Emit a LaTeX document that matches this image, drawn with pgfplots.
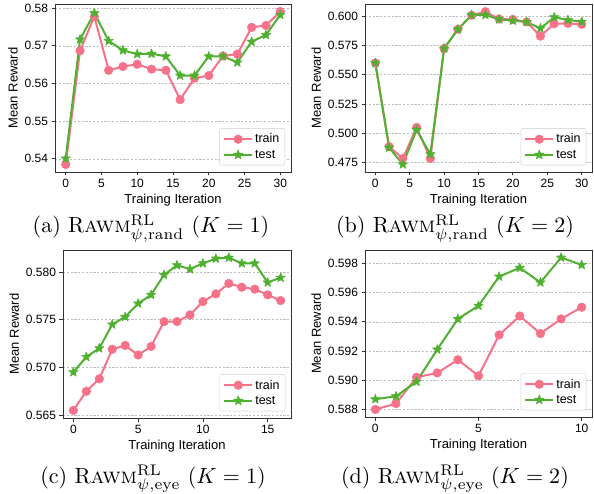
\documentclass[border=0pt]{standalone}
\usepackage{fontspec}
\usepackage{pgfplots}
\pgfplotsset{compat=1.18}
\newfontfamily\arial{Liberation Sans}
\definecolor{trainpink}{HTML}{F77189}
\definecolor{testgreen}{HTML}{50B131}

% filled five-pointed star, like matplotlib's '*'
\pgfdeclareplotmark{fstar}{%
  \pgfpathmoveto{\pgfpointpolar{90}{\pgfplotmarksize}}%
  \pgfpathlineto{\pgfpointpolar{126}{0.42\pgfplotmarksize}}%
  \pgfpathlineto{\pgfpointpolar{162}{\pgfplotmarksize}}%
  \pgfpathlineto{\pgfpointpolar{198}{0.42\pgfplotmarksize}}%
  \pgfpathlineto{\pgfpointpolar{234}{\pgfplotmarksize}}%
  \pgfpathlineto{\pgfpointpolar{270}{0.42\pgfplotmarksize}}%
  \pgfpathlineto{\pgfpointpolar{306}{\pgfplotmarksize}}%
  \pgfpathlineto{\pgfpointpolar{342}{0.42\pgfplotmarksize}}%
  \pgfpathlineto{\pgfpointpolar{18}{\pgfplotmarksize}}%
  \pgfpathlineto{\pgfpointpolar{54}{0.42\pgfplotmarksize}}%
  \pgfpathclose
  \pgfusepathqfillstroke
}

\pgfplotsset{
  rlpanel/.style={
    scale only axis,
    axis line style={black!80, line width=0.8pt},
    tick align=outside,
    tick pos=left,
    major tick length=3.5pt,
    every tick/.style={black!80, line width=0.8pt},
    ymajorgrids,
    grid style={dash pattern=on 2.2pt off 1.6pt, black!25, line width=0.6pt},
    xlabel={Training Iteration},
    ylabel={Mean Reward},
    label style={font=\arial\fontsize{13}{15}\selectfont},
    tick label style={font=\arial\fontsize{12}{14}\selectfont},
    /pgf/number format/assume math mode=true,
    scaled y ticks=false,
    yticklabel style={/pgf/number format/fixed, /pgf/number format/fixed zerofill, /pgf/number format/precision=3},
    legend style={at={(0.975,0.04)}, anchor=south east, draw=black!20, rounded corners=2pt,
      font=\arial\fontsize{12.5}{15}\selectfont, cells={anchor=west}, inner sep=3.5pt, row sep=1.5pt},
    legend image code/.code={\draw[mark repeat=2, mark phase=2] plot coordinates {(0pt,0pt) (14pt,0pt) (28pt,0pt)};},
  },
  train/.style={trainpink, line width=2pt, line join=round, mark=*, mark size=4.3pt, mark options={line width=0.5pt}},
  test/.style={testgreen, line width=2pt, line join=round, mark=fstar, mark size=5pt, mark options={line width=0.5pt}},
}

\begin{document}
\begin{tikzpicture}
  % (a)
  \begin{axis}[rlpanel, at={(55pt,321pt)}, anchor=south west, width=236pt, height=168pt,
    xmin=-1.5, xmax=31.5, ymin=0.5365, ymax=0.5811,
    xtick={0,5,...,30}, ytick={0.54,0.55,0.56,0.57,0.58},
    yticklabel style={/pgf/number format/precision=2}]
    \addplot[train] coordinates {
      (0,0.5385) (2,0.5687) (4,0.5778) (6,0.5635) (8,0.5645) (10,0.5651) (12,0.5638) (14,0.5635)
      (16,0.5557) (18,0.5614) (20,0.5621) (22,0.5673) (24,0.5678) (26,0.5749) (28,0.5754) (30,0.5791)
    };
    \addlegendentry{train}
    \addplot[test] coordinates {
      (0,0.5401) (2,0.5717) (4,0.5787) (6,0.5713) (8,0.5688) (10,0.5678) (12,0.5679) (14,0.5672)
      (16,0.5621) (18,0.5621) (20,0.5672) (22,0.5672) (24,0.5656) (26,0.5711) (28,0.5729) (30,0.5782)
    };
    \addlegendentry{test}
  \end{axis}

  % (b)
  \begin{axis}[rlpanel, at={(365pt,321pt)}, anchor=south west, width=227pt, height=168pt,
    xmin=-1.5, xmax=31.5, ymin=0.4671, ymax=0.6102,
    xtick={0,5,...,30}, ytick={0.475,0.5,0.525,0.55,0.575,0.6}]
    \addplot[train] coordinates {
      (0,0.5600) (2,0.4887) (4,0.4787) (6,0.5050) (8,0.4787) (10,0.5723) (12,0.5886) (14,0.6006)
      (16,0.6037) (18,0.5974) (20,0.5971) (22,0.5949) (24,0.5828) (26,0.5934) (28,0.5937) (30,0.5929)
    };
    \addlegendentry{train}
    \addplot[test] coordinates {
      (0,0.5600) (2,0.4879) (4,0.4736) (6,0.5030) (8,0.4822) (10,0.5723) (12,0.5886) (14,0.6009)
      (16,0.6009) (18,0.5971) (20,0.5960) (22,0.5949) (24,0.5894) (26,0.5989) (28,0.5966) (30,0.5951)
    };
    \addlegendentry{test}
  \end{axis}

  % (c)
  \begin{axis}[rlpanel, at={(63pt,75pt)}, anchor=south west, width=228pt, height=168pt,
    xmin=-0.8, xmax=16.8, ymin=0.5647, ymax=0.5823,
    xtick={0,5,10,15}, ytick={0.565,0.57,0.575,0.58}]
    \addplot[train] coordinates {
      (0,0.5655) (1,0.5675) (2,0.5688) (3,0.5719) (4,0.5723) (5,0.5713) (6,0.5722) (7,0.5748) (8,0.5748)
      (9,0.5755) (10,0.5769) (11,0.5777) (12,0.5788) (13,0.5784) (14,0.5782) (15,0.5776) (16,0.5770)
    };
    \addlegendentry{train}
    \addplot[test] coordinates {
      (0,0.5695) (1,0.5711) (2,0.5720) (3,0.5745) (4,0.5753) (5,0.5767) (6,0.5776) (7,0.5797) (8,0.5807)
      (9,0.5803) (10,0.5809) (11,0.5814) (12,0.5815) (13,0.5809) (14,0.5809) (15,0.5789) (16,0.5794)
    };
    \addlegendentry{test}
  \end{axis}

  % (d)
  \begin{axis}[rlpanel, at={(365pt,76pt)}, anchor=south west, width=227pt, height=167pt,
    xmin=-0.5, xmax=10.5, ymin=0.58748, ymax=0.59892,
    xtick={0,5,10}, ytick={0.588,0.59,0.592,0.594,0.596,0.598}]
    \addplot[train] coordinates {
      (0,0.5880) (1,0.5884) (2,0.5902) (3,0.5905) (4,0.5914) (5,0.5903) (6,0.5931) (7,0.5944)
      (8,0.5932) (9,0.5942) (10,0.5950)
    };
    \addlegendentry{train}
    \addplot[test] coordinates {
      (0,0.5887) (1,0.5889) (2,0.5899) (3,0.5921) (4,0.5942) (5,0.5951) (6,0.5971) (7,0.5977)
      (8,0.5967) (9,0.5984) (10,0.5979)
    };
    \addlegendentry{test}
  \end{axis}

  % sub-captions, set at 10pt and scaled up so the math scales with them
  \begin{scope}[every node/.style={anchor=base, font=\fontsize{10}{12}\selectfont, inner sep=0pt, scale=2.2, transform shape}]
    \node at (151pt,260pt) {(a) R\textsc{awm}$^{\mathrm{RL}}_{\psi,\mathrm{rand}}$ ($K=1$)};
    \node at (455pt,260pt) {(b) R\textsc{awm}$^{\mathrm{RL}}_{\psi,\mathrm{rand}}$ ($K=2$)};
    \node at (153pt,10pt) {(c) R\textsc{awm}$^{\mathrm{RL}}_{\psi,\mathrm{eye}}$ ($K=1$)};
    \node at (455pt,10pt) {(d) R\textsc{awm}$^{\mathrm{RL}}_{\psi,\mathrm{eye}}$ ($K=2$)};
  \end{scope}

  \pgfresetboundingbox
  \path[use as bounding box] (0pt,0pt) rectangle (594pt,493pt);
\end{tikzpicture}
\end{document}
